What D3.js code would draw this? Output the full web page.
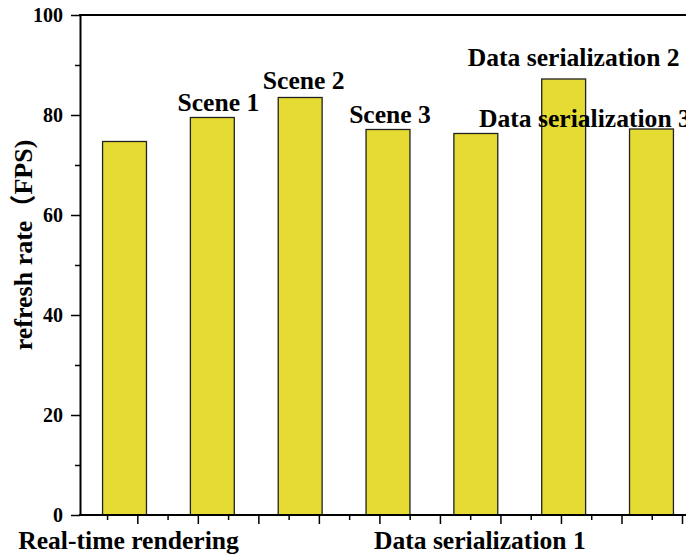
<!DOCTYPE html>
<html lang="en">
<head>
    <meta charset="UTF-8">
    <title>Refresh rate</title>
    <script src="https://cdn.jsdelivr.net/npm/d3@7"></script>
    <style>
        body { margin: 0; background: #fff; }
        text {
            font-family: 'Liberation Serif', 'Times New Roman', 'Noto Sans CJK SC', serif;
            font-weight: bold;
            fill: #000;
        }
        .bar {
            fill: #e5db33;
            stroke: #222;
            stroke-width: 1.3;
        }
        .axis path, .axis line { stroke: #000; }
    </style>
</head>
<body>
<script>
    const categories = ["Real-time rendering", "Scene 1", "Scene 2", "Scene 3",
                        "Data serialization 1", "Data serialization 2", "Data serialization 3"];
    const fps = [74.7, 79.5, 83.5, 77.1, 76.3, 87.2, 77.2];
    const axisLabelled = ["Real-time rendering", "Data serialization 1"];
    const annotated = ["Scene 1", "Scene 2", "Scene 3", "Data serialization 2", "Data serialization 3"];
    const yMajor = [0, 20, 40, 60, 80, 100];
    const yMinor = [10, 30, 50, 70, 90];

    // where each annotation sits relative to the top of its bar (px)
    const noteOffset = {
        "Scene 1": [6, -7, "middle"],
        "Scene 2": [3.5, -9, "middle"],
        "Scene 3": [2, -7, "middle"],
        "Data serialization 2": [10, -13, "middle"],
        "Data serialization 3": [-172.5, -2, "start"]
    };

    const W = 686, H = 555;
    const svg = d3.select("body").append("svg").attr("width", W).attr("height", H);

    const y = d3.scaleLinear().domain([0, 100]).range([515, 15]);
    const x = d3.scaleBand().domain(categories).range([80.6, 695.4])
                .paddingInner(0.5).paddingOuter(0.25);
    // numeric scale used only for the bottom tick marks
    const xt = d3.scaleLinear().domain([0, 10]).range([76.8, 682]);

    // bars
    svg.selectAll("rect.bar")
        .data(categories).join("rect")
        .attr("class", "bar")
        .attr("x", d => x(d))
        .attr("width", x.bandwidth())
        .attr("y", (d, i) => y(fps[i]))
        .attr("height", (d, i) => y(0) - y(fps[i]));

    // y axis: major + minor ticks
    svg.append("g").attr("class", "axis")
        .attr("transform", "translate(80,0)")
        .call(d3.axisLeft(y).tickValues(yMinor).tickSize(5).tickFormat(""))
        .call(g => g.select(".domain").remove())
        .selectAll("line").attr("stroke-width", 1.5);
    const ya = svg.append("g").attr("class", "axis")
        .attr("transform", "translate(80,0)")
        .call(d3.axisLeft(y).tickValues(yMajor).tickSize(9).tickSizeOuter(0).tickPadding(8));
    ya.select(".domain").attr("stroke-width", 2);
    ya.selectAll("line").attr("stroke-width", 1.5);
    ya.selectAll("text").attr("font-size", 20).attr("font-family", null).attr("dy", "0.33em");

    // top frame line
    svg.append("line")
        .attr("x1", 79).attr("x2", W).attr("y1", y(100)).attr("y2", y(100))
        .attr("stroke", "#000").attr("stroke-width", 2);

    // x axis ticks
    const minorX = d3.range(0.5, 10, 1);
    const majorX = d3.range(1, 11, 1);
    svg.append("g").attr("class", "axis")
        .attr("transform", `translate(0,${y(0)})`)
        .call(d3.axisBottom(xt).tickValues(minorX).tickSize(5).tickFormat(""))
        .call(g => g.select(".domain").remove())
        .selectAll("line").attr("stroke-width", 1.5);
    svg.append("g").attr("class", "axis")
        .attr("transform", `translate(0,${y(0)})`)
        .call(d3.axisBottom(xt).tickValues(majorX).tickSize(9).tickFormat(""))
        .call(g => g.select(".domain").remove())
        .selectAll("line").attr("stroke-width", 1.5);
    svg.append("line")
        .attr("x1", 79).attr("x2", W).attr("y1", y(0)).attr("y2", y(0))
        .attr("stroke", "#000").attr("stroke-width", 2);

    // category labels under the axis
    svg.selectAll("text.xlab")
        .data(axisLabelled).join("text")
        .attr("class", "xlab")
        .attr("x", d => x(d) + x.bandwidth() / 2 + 4)
        .attr("y", 549)
        .attr("text-anchor", "middle")
        .attr("font-size", 25.6)
        .text(d => d);

    // annotations over the bars
    svg.selectAll("text.note")
        .data(annotated).join("text")
        .attr("class", "note")
        .attr("x", d => x(d) + x.bandwidth() / 2 + noteOffset[d][0])
        .attr("y", d => y(fps[categories.indexOf(d)]) + noteOffset[d][1])
        .attr("text-anchor", d => noteOffset[d][2])
        .attr("font-size", 25.6)
        .text(d => d);

    // y title
    svg.append("text")
        .attr("transform", "translate(32,245) rotate(-90)")
        .attr("text-anchor", "middle")
        .attr("font-size", 26)
        .text("refresh rate（FPS)");
</script>
</body>
</html>
